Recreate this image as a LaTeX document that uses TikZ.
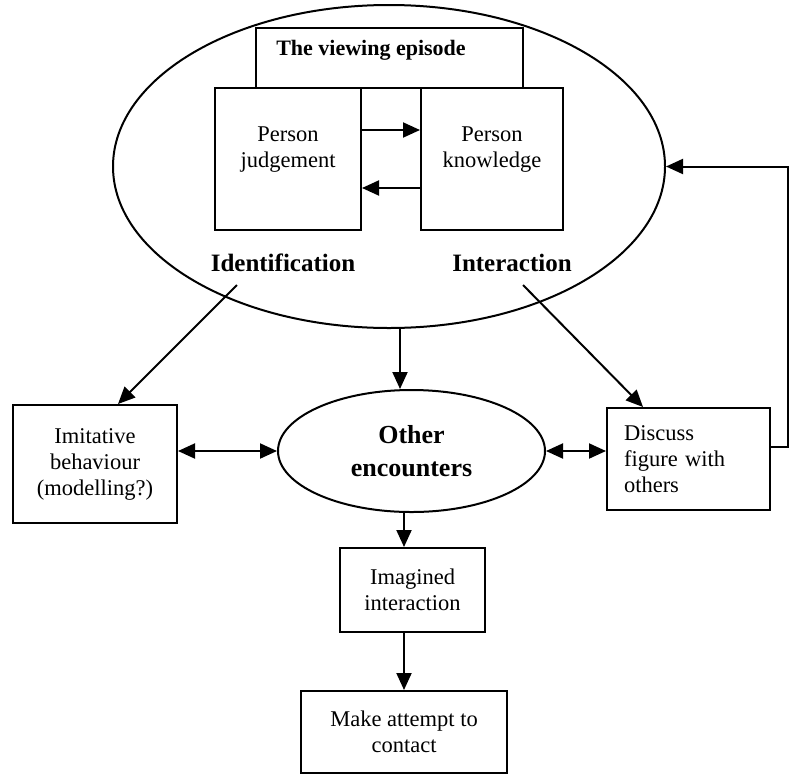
\documentclass[tikz,border=0pt]{standalone}
\usepackage{fontspec}
\setmainfont{Liberation Serif}
\usetikzlibrary{arrows.meta,shapes.geometric}

\tikzset{
  box/.style={draw, line width=2pt, rectangle, inner sep=0pt},
  oval/.style={draw, line width=2pt, ellipse, inner sep=0pt},
  small/.style={align=center, font=\fontsize{22.5}{26}\selectfont},
  big/.style={align=center, font=\bfseries\fontsize{25}{33}\selectfont},
  arr/.style={line width=2pt, -{Triangle[length=17pt,width=15pt]}},
  darr/.style={line width=2pt, {Triangle[length=17pt,width=15pt]}-{Triangle[length=17pt,width=15pt]}}
}

\begin{document}
\begin{tikzpicture}[x=1pt,y=-1pt]
  \useasboundingbox (0,0) rectangle (791,774);

  % the viewing episode
  \node[oval, minimum width=552pt, minimum height=323pt] (episode) at (389,166.5) {};
  \node[box, minimum width=267pt, minimum height=60pt] (view) at (389.5,58) {};
  \node[font=\bfseries\fontsize{22}{26}\selectfont] (viewtext) at (371,50) {The viewing episode};
  \node[box, fill=white, minimum width=146pt, minimum height=142pt] (judge) at (288,159) {};
  \node[box, fill=white, minimum width=142pt, minimum height=142pt] (know) at (492,159) {};
  \node[small] (judgetext) at (288,150) {Person\\judgement};
  \node[small] (knowtext) at (492,150) {Person\\knowledge};
  \node[big] (ident) at (283,263) {Identification};
  \node[big] (inter) at (512,263) {Interaction};
  \coordinate (identout) at (237,285);
  \coordinate (interout) at (523,285);

  % outcomes
  \node[box, small, minimum width=164pt, minimum height=118pt] (imit) at (95,464) {Imitative\\behaviour\\(modelling?)};
  \node[oval, big, font=\bfseries\fontsize{26}{33}\selectfont, minimum width=267pt, minimum height=122pt] (oe) at (411.5,451) {Other\\encounters};
  \node[box, small, align=left, text width=129pt, inner xsep=17pt, minimum height=102pt] (disc) at (688.5,459) {Discuss\\figure with\\others};
  \node[box, small, minimum width=145pt, minimum height=84pt] (imag) at (412.5,590) {Imagined\\interaction};
  \node[box, small, minimum width=206pt, minimum height=82pt] (make) at (404,732) {Make attempt to\\contact};

  \draw[arr] ([yshift=29pt]judge.east) -- ([yshift=29pt]know.west);
  \draw[arr] ([yshift=-29pt]know.west) -- ([yshift=-29pt]judge.east);
  \draw[arr] (identout) -- ([xshift=23pt]imit.north);
  \draw[arr] (interout) -- ([xshift=-45.5pt]disc.north);
  \draw[arr] ([xshift=11pt]episode.south) -- ([xshift=-11.5pt]oe.north);
  \draw[darr] (imit.east |- oe.west) -- (oe.west);
  \draw[darr] (oe.east) -- (oe.east -| disc.west);
  \draw[arr] ([yshift=12pt]disc.east) -- ++(17,0) |- (episode.east);
  \draw[arr] (oe.south -| make.north) -- (imag.north -| make.north);
  \draw[arr] (imag.south -| make.north) -- (make.north);
\end{tikzpicture}
\end{document}
